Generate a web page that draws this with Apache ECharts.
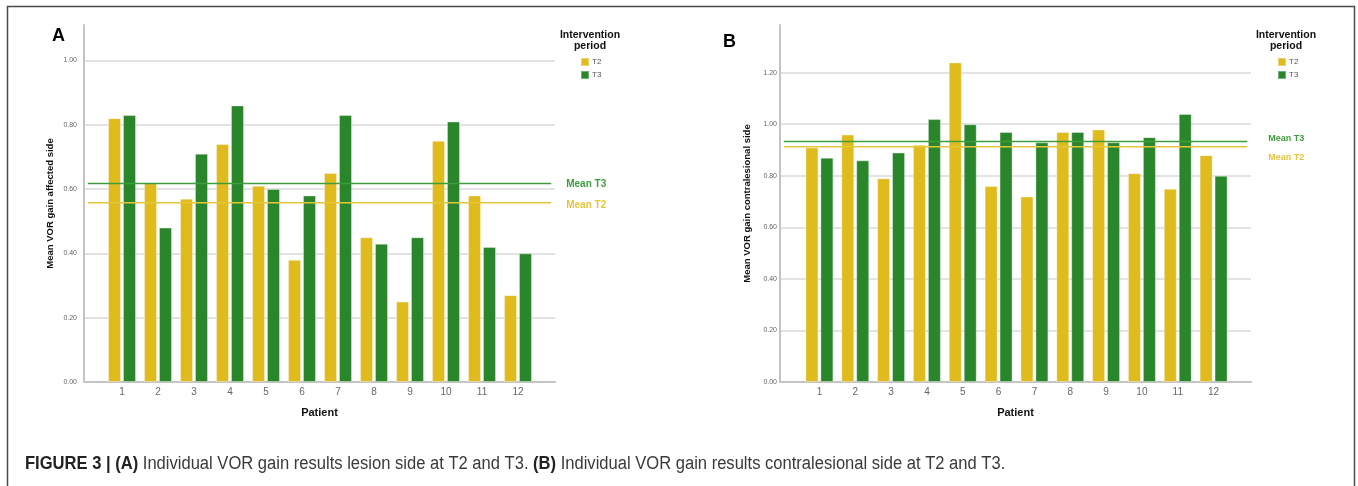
<!DOCTYPE html>
<html>
<head>
<meta charset="utf-8">
<script src="https://cdn.jsdelivr.net/npm/echarts@6/dist/echarts.min.js"></script>
<style>
  html, body { margin: 0; padding: 0; background: #ffffff; }
  #chart { width: 1358px; height: 486px; }
</style>
</head>
<body>
<div id="chart"></div>
<script>
// Patients on the x axis
const patients = ['1', '2', '3', '4', '5', '6', '7', '8', '9', '10', '11', '12'];

// Panel A: mean VOR gain, affected (lesion) side
const affectedT2 = [0.82, 0.62, 0.57, 0.74, 0.61, 0.38, 0.65, 0.45, 0.25, 0.75, 0.58, 0.27];
const affectedT3 = [0.83, 0.48, 0.71, 0.86, 0.60, 0.58, 0.83, 0.43, 0.45, 0.81, 0.42, 0.40];
const affectedMeans = { T2: 0.557, T3: 0.617 };

// Panel B: mean VOR gain, contralesional side
const contraT2 = [0.91, 0.96, 0.79, 0.92, 1.24, 0.76, 0.72, 0.97, 0.98, 0.81, 0.75, 0.88];
const contraT3 = [0.87, 0.86, 0.89, 1.02, 1.00, 0.97, 0.93, 0.97, 0.93, 0.95, 1.04, 0.80];
const contraMeans = { T2: 0.913, T3: 0.933 };

const periods = ['T2', 'T3'];

const YELLOW = '#DFBB1E';
const GREEN = '#2A862A';
const MEAN_YELLOW = '#E5C53A';
const MEAN_GREEN = '#3E9E3E';
const FONT = '"Liberation Sans", Arial, sans-serif';

const chart = echarts.init(document.getElementById('chart'), null, { renderer: 'canvas' });

// Each panel uses two overlaid grids: a frame grid (value axes, grid lines,
// mean lines) and a narrower bar grid holding the category axis.
function frameAxes(gridIndex, yMax, yName, labelMargin, nameGap) {
  const x = {
    type: 'value', gridIndex, min: 0, max: 1,
    name: 'Patient', nameLocation: 'middle', nameGap: 25,
    nameTextStyle: { fontFamily: FONT, fontWeight: 'bold', fontSize: 11, color: '#111' },
    axisLine: { show: true, lineStyle: { color: '#c4c4c4', width: 2 } },
    axisTick: { show: false }, axisLabel: { show: false }, splitLine: { show: false }
  };
  const y = {
    type: 'value', gridIndex, min: 0, max: yMax, interval: 0.2,
    name: yName, nameLocation: 'middle', nameGap,
    nameTextStyle: { fontFamily: FONT, fontWeight: 'bold', fontSize: 9.5, color: '#111' },
    axisLine: { show: true, lineStyle: { color: '#c4c4c4', width: 2 } },
    axisTick: { show: false },
    axisLabel: {
      fontFamily: FONT, fontSize: 7, color: '#666', margin: labelMargin,
      showMaxLabel: false, formatter: v => v.toFixed(2)
    },
    splitLine: { show: true, showMinLine: false, showMaxLine: false, lineStyle: { color: '#dadada', width: 1.5 } }
  };
  return { x, y };
}

function barAxes(gridIndex, yMax) {
  const x = {
    type: 'category', gridIndex, data: patients,
    axisLine: { show: false }, axisTick: { show: false },
    axisLabel: { fontFamily: FONT, fontSize: 10, color: '#666', margin: 5 }
  };
  const y = { type: 'value', gridIndex, min: 0, max: yMax, show: false, splitLine: { show: false } };
  return { x, y };
}

const aFrame = frameAxes(0, 1.11, 'Mean VOR gain affected side', 7, 29);
const aBars = barAxes(1, 1.11);
const bFrame = frameAxes(2, 1.385, 'Mean VOR gain contralesional side', 3, 28);
const bBars = barAxes(3, 1.385);

function barSeries(name, data, axisIndex, color) {
  return {
    name, type: 'bar', xAxisIndex: axisIndex, yAxisIndex: axisIndex, data,
    barWidth: 13, barGap: '15%',
    itemStyle: { color, borderColor: 'rgba(255,255,255,0.35)', borderWidth: 1 },
    emphasis: { disabled: true }
  };
}

function meanSeries(label, value, axisIndex, color, labelDist, labelDy, labelSize) {
  return {
    name: label, type: 'line', xAxisIndex: axisIndex, yAxisIndex: axisIndex,
    data: [[0.008, value], [0.992, value]],
    symbol: 'none', silent: true,
    lineStyle: { color, width: 1.5 },
    endLabel: {
      show: true, formatter: label, color, distance: labelDist, offset: [0, labelDy],
      fontFamily: FONT, fontWeight: 'bold', fontSize: labelSize
    }
  };
}

function legendFor(left) {
  return {
    data: periods, orient: 'vertical', left, top: 57, padding: 0,
    icon: 'rect', itemWidth: 8, itemHeight: 8, itemGap: 3,
    textStyle: { fontFamily: FONT, fontSize: 8, color: '#555', padding: [0, 0, 0, -2] },
    selectedMode: false
  };
}

function legendTitle(cx, top) {
  return {
    type: 'text', x: cx, y: top,
    style: {
      text: 'Intervention\nperiod', align: 'center', verticalAlign: 'top',
      fontFamily: FONT, fontWeight: 'bold', fontSize: 10.5, lineHeight: 11, fill: '#111'
    }
  };
}

const CAPTION_FONT = '"Liberation Sans", Arial, sans-serif';

const option = {
  animation: false,
  backgroundColor: '#ffffff',
  grid: [
    { left: 84, top: 25, width: 471, height: 357 },
    { left: 104, top: 25, width: 432, height: 357 },
    { left: 780, top: 25, width: 471, height: 357 },
    { left: 801.5, top: 25, width: 430, height: 357 }
  ],
  xAxis: [aFrame.x, aBars.x, bFrame.x, bBars.x],
  yAxis: [aFrame.y, aBars.y, bFrame.y, bBars.y],
  legend: [legendFor(580), legendFor(1277)],
  series: [
    barSeries('T2', affectedT2, 1, YELLOW),
    barSeries('T3', affectedT3, 1, GREEN),
    meanSeries('Mean T3', affectedMeans.T3, 0, MEAN_GREEN, 15, 1, 10),
    meanSeries('Mean T2', affectedMeans.T2, 0, MEAN_YELLOW, 15, 2, 10),
    barSeries('T2', contraT2, 3, YELLOW),
    barSeries('T3', contraT3, 3, GREEN),
    meanSeries('Mean T3', contraMeans.T3, 2, MEAN_GREEN, 21, -3, 9),
    meanSeries('Mean T2', contraMeans.T2, 2, MEAN_YELLOW, 21, 11, 9)
  ],
  graphic: [
    {
      type: 'rect', silent: true,
      shape: { x: 7.5, y: 6.5, width: 1347, height: 500 },
      style: { fill: 'none', stroke: '#4a4a4a', lineWidth: 1.5 }
    },
    { type: 'text', x: 52, y: 27, style: { text: 'A', fontFamily: FONT, fontWeight: 'bold', fontSize: 18, fill: '#000' } },
    { type: 'text', x: 723, y: 33, style: { text: 'B', fontFamily: FONT, fontWeight: 'bold', fontSize: 18, fill: '#000' } },
    legendTitle(590, 30),
    legendTitle(1286, 30),
    {
      // figure caption, set in a slightly condensed face
      type: 'text', x: 25, y: 455, scaleX: 0.92,
      style: {
        text: '{b|FIGURE 3 | (A)} Individual VOR gain results lesion side at T2 and T3. {b|(B)} Individual VOR gain results contralesional side at T2 and T3.',
        fontFamily: CAPTION_FONT, fontSize: 18, fill: '#3a3a3a',
        rich: {
          b: { fontFamily: CAPTION_FONT, fontWeight: 'bold', fontSize: 18, fill: '#222' }
        }
      }
    }
  ]
};

chart.setOption(option);
</script>
</body>
</html>
